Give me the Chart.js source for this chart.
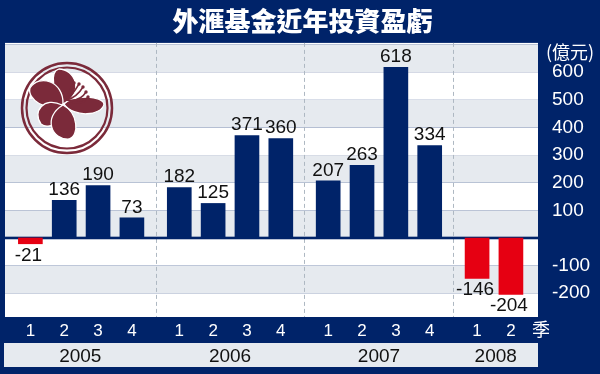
<!DOCTYPE html>
<html><head><meta charset="utf-8">
<script src="https://cdn.jsdelivr.net/npm/chart.js@4.4.1/dist/chart.umd.min.js"></script>
<style>html,body{margin:0;padding:0;background:#002369;} #wrap{width:600px;height:374px;position:relative;}</style>
</head><body><div id="wrap"><canvas id="c"></canvas></div>
<script>
// ---- data ----
const titleText = '外滙基金近年投資盈虧';
const unitText = '(億元)';
const quarterSuffix = '季';
const years = ['2005', '2006', '2007', '2008'];
const quarterYearIndex = [0, 0, 0, 0, 1, 1, 1, 1, 2, 2, 2, 2, 3, 3];
const quarterNumbers = [1, 2, 3, 4, 1, 2, 3, 4, 1, 2, 3, 4, 1, 2];
const profitLoss = [-21, 136, 190, 73, 182, 125, 371, 360, 207, 263, 618, 334, -146, -204];
const yTickValues = [600, 500, 400, 300, 200, 100, -100, -200];

// ---- styling / layout ----
const NAVY = '#002369', RED = '#e60012', BAND = '#e6eaef', MAROON = '#7b2a3a';
const GROUP_STEP = 4.4;
const X_MIN = -0.75, X_MAX = 15.0, Y_MIN = -286, Y_MAX = 706;
const xPos = i => quarterYearIndex[i] * GROUP_STEP + (quarterNumbers[i] - 1);
const boundaries = [];
for (let y = 1; y < years.length; y++) boundaries.push(((y - 1) * GROUP_STEP + 3 + y * GROUP_STEP) / 2);
const edges = [X_MIN, ...boundaries, X_MAX];
const yearCenters = years.map((_, i) => (edges[i] + edges[i + 1]) / 2);
const NUM_FONT = "'Liberation Sans', Arial, sans-serif";
const CJK_FONT = "'Noto Sans CJK TC', 'Noto Sans CJK SC', sans-serif";

function petal(ctx, bx, by, tx, ty, w, bend) {
  const dx = tx - bx, dy = ty - by, len = Math.hypot(dx, dy);
  const nx = -dy / len, ny = dx / len;
  ctx.beginPath();
  ctx.moveTo(bx, by);
  ctx.bezierCurveTo(bx + dx * 0.25 + nx * w * (1.0 + bend), by + dy * 0.25 + ny * w * (1.0 + bend),
                    bx + dx * 0.95 + nx * w * 0.9, by + dy * 0.95 + ny * w * 0.9, tx, ty);
  ctx.bezierCurveTo(bx + dx * 0.95 - nx * w * 0.6, by + dy * 0.95 - ny * w * 0.6,
                    bx + dx * 0.3 - nx * w * (0.9 - bend), by + dy * 0.3 - ny * w * (0.9 - bend), bx, by);
  ctx.closePath();
  ctx.fill();
  ctx.stroke();
}

const decor = {
  id: 'decor',
  beforeDraw(chart) {
    const { ctx, chartArea: a, scales } = chart;
    const ys = scales.y, xs = scales.x;
    ctx.save();
    ctx.fillStyle = NAVY;
    ctx.fillRect(0, 0, chart.width, chart.height);
    // bands
    for (let k = -3; k < 8; k++) {
      const lo = Math.max(k * 100, Y_MIN), hi = Math.min((k + 1) * 100, Y_MAX);
      if (hi <= lo) continue;
      const top = ys.getPixelForValue(hi), bot = ys.getPixelForValue(lo);
      ctx.fillStyle = (Math.abs(k) % 2 === 0) ? BAND : '#ffffff';
      ctx.fillRect(a.left, top, a.right - a.left, bot - top);
    }
    // year strip
    ctx.fillStyle = BAND;
    ctx.fillRect(a.left - 1, a.bottom + 26, a.right - a.left + 1, 24);
    // separators
    ctx.strokeStyle = '#aeb8c2';
    ctx.lineWidth = 1;
    ctx.setLineDash([4, 3]);
    boundaries.forEach(b => {
      const px = Math.round(xs.getPixelForValue(b)) + 0.5;
      ctx.beginPath(); ctx.moveTo(px, a.top); ctx.lineTo(px, a.bottom); ctx.stroke();
    });
    ctx.setLineDash([]);
    // emblem
    const cx = 67, cy = 108;
    ctx.strokeStyle = MAROON; ctx.fillStyle = MAROON;
    ctx.lineWidth = 2.5;
    ctx.beginPath(); ctx.arc(cx, cy, 45, 0, Math.PI * 2); ctx.stroke();
    ctx.lineWidth = 2.2;
    ctx.beginPath(); ctx.arc(cx, cy, 40.5, 0, Math.PI * 2); ctx.stroke();
    const bx = 63, by = 104;
    ctx.strokeStyle = '#ffffff';
    ctx.lineWidth = 1.3;
    petal(ctx, bx, by, 59, 69, 17, 0.4);
    petal(ctx, bx, by, 30, 88, 19, 0.1);
    petal(ctx, bx - 1, by + 1, 41, 124, 17, 0.1);
    petal(ctx, bx, by + 1, 69, 139, 19, 0.2);
    petal(ctx, bx + 1, by, 104, 104, 13, 0.1);
    ctx.strokeStyle = MAROON;
    ctx.lineWidth = 1.5;
    [[74, 83], [79, 84], [83, 87], [86, 92], [88, 97]].forEach(([ex, ey]) => {
      ctx.beginPath(); ctx.moveTo(bx + 4, by - 4);
      ctx.quadraticCurveTo(ex - 6, ey + 10, ex, ey); ctx.stroke();
      ctx.beginPath(); ctx.arc(ex, ey, 1.7, 0, Math.PI * 2); ctx.fill();
    });
    // zero line
    const z = ys.getPixelForValue(0);
    ctx.fillStyle = NAVY;
    ctx.fillRect(a.left, z - 1.3, a.right - a.left, 2.6);
    ctx.restore();
  },
  afterDatasetsDraw(chart) {
    const { ctx } = chart;
    const meta = chart.getDatasetMeta(0);
    ctx.save();
    ctx.fillStyle = '#111111';
    ctx.font = "19px 'Liberation Sans Narrow', 'Liberation Sans', Arial, sans-serif";
    ctx.textAlign = 'center';
    meta.data.forEach((el, i) => {
      const v = profitLoss[i];
      if (v >= 0) { ctx.textBaseline = 'bottom'; ctx.fillText(String(v), el.x, el.y - 1); }
      else { ctx.textBaseline = 'top'; ctx.fillText(String(v), el.x - 2, el.y + 2); }
    });
    ctx.restore();
  },
  afterDraw(chart) {
    const { ctx, chartArea: a } = chart;
    ctx.save();
    ctx.fillStyle = '#ffffff';
    ctx.textAlign = 'center';
    ctx.textBaseline = 'middle';
    ctx.font = '18px ' + CJK_FONT;
    ctx.fillText(unitText, 570, 52);
    ctx.font = '18px ' + CJK_FONT;
    ctx.fillText(quarterSuffix, 541, a.bottom + 12);
    ctx.restore();
  }
};

const points = profitLoss.map((v, i) => ({ x: xPos(i), y: v }));
new Chart(document.getElementById('c'), {
  type: 'bar',
  data: { datasets: [{ data: points, backgroundColor: profitLoss.map(v => v < 0 ? RED : NAVY), barThickness: 24, borderWidth: 0 }] },
  options: {
    responsive: true, maintainAspectRatio: false, animation: false,
    layout: { padding: { left: 5, right: 0, top: 0, bottom: 0 } },
    plugins: {
      legend: { display: false }, tooltip: { enabled: false },
      title: { display: true, text: titleText, color: '#ffffff', font: { family: CJK_FONT, size: 26, weight: '900', lineHeight: 1.15 }, padding: { top: 6, bottom: 7 } }
    },
    scales: {
      x: {
        type: 'linear', min: X_MIN, max: X_MAX, offset: false, position: 'bottom', weight: 0,
        grid: { display: false, drawTicks: false, offset: false }, border: { display: false },
        afterBuildTicks: ax => { ax.ticks = profitLoss.map((v, i) => ({ value: xPos(i) })); },
        afterFit: ax => { ax.height = 28; },
        ticks: { color: '#ffffff', font: { family: NUM_FONT, size: 17 }, padding: 4, autoSkip: false, maxRotation: 0, callback: (v, i) => String(quarterNumbers[i]) }
      },
      yr: {
        axis: 'x', type: 'linear', min: X_MIN, max: X_MAX, offset: false, position: 'bottom', weight: 1,
        grid: { display: false, drawTicks: false }, border: { display: false },
        afterBuildTicks: ax => { ax.ticks = yearCenters.map(c => ({ value: c })); },
        afterFit: ax => { ax.height = 29; },
        ticks: { color: '#111111', font: { family: NUM_FONT, size: 19 }, padding: 0, autoSkip: false, maxRotation: 0, callback: (v, i) => years[i] }
      },
      y: {
        type: 'linear', position: 'right', min: Y_MIN, max: Y_MAX,
        grid: { display: false, drawTicks: false }, border: { display: false },
        afterBuildTicks: ax => { ax.ticks = yTickValues.map(v => ({ value: v })); },
        afterFit: ax => { ax.width = 62; },
        ticks: { color: '#ffffff', font: { family: NUM_FONT, size: 19 }, padding: 14, crossAlign: 'near', callback: v => String(v) }
      }
    }
  },
  plugins: [decor]
});
</script>
</body></html>
